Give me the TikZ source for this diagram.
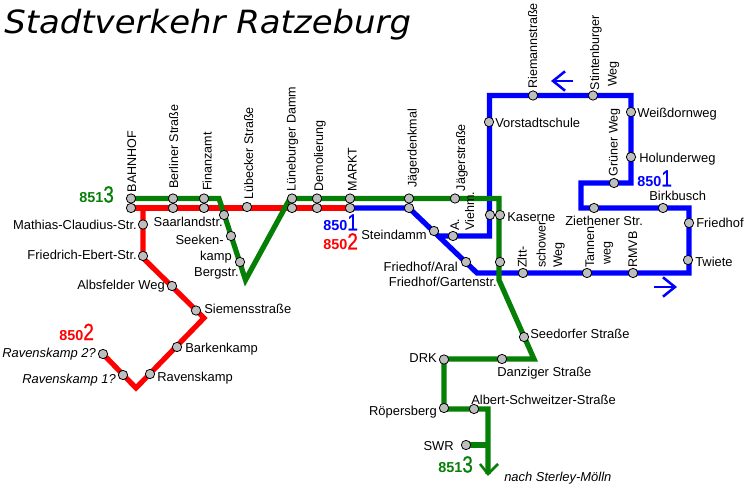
\documentclass[tikz,border=0pt]{standalone}
\usepackage{fontspec}
\setmainfont{Liberation Sans}
\newfontfamily\titlefont{DejaVu Sans}
\newfontfamily\digitfont[FakeBold=0.7]{Liberation Sans}
\usetikzlibrary{arrows.meta,backgrounds}
\definecolor{lgreen}{HTML}{067F06}
\definecolor{lblue}{HTML}{0000FF}
\definecolor{lred}{HTML}{FF0000}
\definecolor{stopgray}{HTML}{BEBEBE}
\newcommand{\lblfont}{\fontsize{9.7pt}{11pt}\selectfont}
\newcommand{\vertfont}{\fontsize{9.4pt}{11pt}\selectfont}
\newcommand{\routelbl}[2]{\fontsize{10.8pt}{11pt}\selectfont\bfseries #1\scalebox{0.82}[1]{\digitfont\fontsize{17.5pt}{18pt}\selectfont\mdseries #2}}
\tikzset{
  x=0.75pt,y=-0.75pt,
  stopdot/.style={circle,draw=black,fill=stopgray,line width=0.6pt,minimum size=7pt,inner sep=0pt},
  lineseg/.style={line width=3.9pt,line join=miter,line cap=butt},
  redline/.style={lineseg,draw=lred},
  blueline/.style={lineseg,draw=lblue},
  greenline/.style={lineseg,draw=lgreen},
  lr/.style={anchor=base west,inner sep=0pt,font=\lblfont},
  ll/.style={anchor=base east,inner sep=0pt,font=\lblfont},
  lu/.style={anchor=base west,inner sep=0pt,font=\vertfont,rotate=90},
  routetag/.style={anchor=base west,inner sep=0pt},
  dirarrow/.style={draw=lblue,line width=1.9pt,-{Straight Barb[length=9pt,width=14.5pt,line width=1.9pt]}}
}
\begin{document}
\begin{tikzpicture}
\useasboundingbox (0,0) rectangle (746,488);
% title
\node[anchor=base west,inner sep=0pt,font=\titlefont\fontsize{24pt}{28pt}\selectfont\itshape] (title) at (4,33.5) {\scalebox{1.06}[1]{Stadtverkehr Ratzeburg}};
% corners
\coordinate (r0) at (131,208);
\coordinate (rb) at (143,208);
\coordinate (rc) at (204,318);
\coordinate (rd) at (136,388);
\coordinate (ra) at (143,258);
\coordinate (g1) at (219,198.5);
\coordinate (g2) at (245.5,280);
\coordinate (g3) at (290,198.5);
\coordinate (g4) at (499,198.5);
\coordinate (g5) at (499,280);
\coordinate (g6) at (534,359);
\coordinate (g7) at (444,359);
\coordinate (g8) at (444,409);
\coordinate (g9) at (488,409);
\coordinate (g10) at (488,474);
\coordinate (g11) at (488,445);
\coordinate (g12) at (480,464);
\coordinate (g13) at (498,464);
\coordinate (b1) at (477,273);
\coordinate (b2) at (689,273);
\coordinate (b3) at (689,208);
\coordinate (b4) at (581,208);
\coordinate (b5) at (581,183);
\coordinate (b6) at (631,183);
\coordinate (b7) at (631,95.5);
\coordinate (b8) at (489.5,95.5);
\coordinate (b9) at (489.5,236);
\coordinate (b10) at (438,236);
\coordinate (a1s) at (573,81);
\coordinate (a1e) at (551,81);
\coordinate (a2s) at (654,287);
\coordinate (a2e) at (677,287);
% stops
\foreach \n/\x/\y in {
 bahnG/131/198.5, bahnR/131/208, berG/173/198.5, berR/173/208, finG/204/198.5, finR/204/208,
 lueb/247/207, saar/224/215, seek/231/236, berg/240/262, luenG/292/198.5, luenR/292/208,
 demG/317/198.5, demR/317/208, marG/350/198.5, marR/350/208, jdG/409/198.5, jdR/409/208,
 jag/455/198.5, stein/434/231, viehm/453/236, aral/466/262, kasB/490/215, kasG/500/215,
 gart/500/262, zlt/523/273, tann/587/273, rmvb/633/273, twi/688/260, fho/689/223, birk/663/208,
 zie/594/208, gru/614/183, hol/631/157, wei/631/112, sti/593/95.5, rie/533/95.5, vor/489/122,
 mat/143/224.5, fri/143/256, alh/172/286, sie/196/310.5, bar/177/347, rav/150/374, rvA/123/375, rvB/103/354,
 see/524/337, dan/502/359, drk/444/359.5, roe/444/408, alb/474/409, swr/466/445}
 {\node[stopdot] (\n) at (\x,\y) {};}
% lines
\begin{scope}[on background layer]
\fill[white] (0,0) rectangle (746,488);
\draw[redline] (r0) -- (marR.center);
\draw[redline] (rb) -- (ra) -- (rc) -- (rd) -- (rvB.center);
\draw[blueline] (marR.center) -- (jdR.center) -- (b1) -- (b2) -- (b3) -- (b4) -- (b5) -- (b6) -- (b7) -- (b8) -- (b9) -- (b10);
\draw[greenline] (bahnG.center) -- (g1) -- (g2) -- (g3) -- (g4) -- (g5) -- (g6) -- (g7) -- (g8) -- (g9) -- (g10);
\draw[greenline] (swr.center) -- (g11);
\draw[lgreen,line width=1.9pt] (g12) -- (g10) -- (g13);
\end{scope}
\draw[dirarrow] (a1s) -- (a1e);
\draw[dirarrow] (a2s) -- (a2e);
% vertical labels
\node[lu] (tBahn) at (136,192.5) {BAHNHOF};
\node[lu] (tBer) at (178,189) {Berliner Straße};
\node[lu] (tFin) at (211.5,191) {Finanzamt};
\node[lu] (tLueb) at (253,200) {Lübecker Straße};
\node[lu] (tLuen) at (295.5,191.5) {Lüneburger Damm};
\node[lu] (tDem) at (323,191.5) {Demolierung};
\node[lu] (tMar) at (356.5,191.5) {MARKT};
\node[lu] (tJd) at (416.5,188) {Jägerdenkmal};
\node[lu] (tJag) at (465,191.5) {Jägerstraße};
\node[lu] (tA) at (459,231) {A.};
\node[lu] (tV) at (474,231) {Viehm.};
\node[lu] (tZa) at (526.5,268) {Zltt-};
\node[lu] (tZb) at (545.5,268) {schower};
\node[lu] (tZc) at (562,268) {Weg};
\node[lu] (tTa) at (594,268) {Tannen};
\node[lu] (tTb) at (610.5,265) {weg};
\node[lu] (tRm) at (637,268) {RMVB};
\node[lu] (tRie) at (537,89) {Riemannstraße};
\node[lu] (tSa) at (599,90.5) {Stintenburger};
\node[lu] (tSb) at (616.5,87) {Weg};
\node[lu] (tGr) at (617.5,176.5) {Grüner Weg};
% left-ending labels
\node[ll] (tMat) at (137,230) {Mathias-Claudius-Str.};
\node[ll] (tFri) at (137,260) {Friedrich-Ebert-Str.};
\node[ll] (tAlh) at (165,290) {Albsfelder Weg};
\node[ll] (tSaar) at (223,227) {Saarlandstr.};
\node[ll] (tSe) at (224,245) {Seeken-};
\node[ll] (tKa) at (232,260.5) {kamp};
\node[ll] (tBg) at (239,276.5) {Bergstr.};
\node[ll] (tSt) at (427,239.5) {Steindamm};
\node[ll] (tAr) at (458,271.5) {Friedhof/Aral};
\node[ll] (tGa) at (497,286.5) {Friedhof/Gartenstr.};
\node[ll] (tDrk) at (437,363) {DRK};
\node[ll] (tRoe) at (437,415) {Röpersberg};
\node[ll] (tSwr) at (454,450) {SWR};
\node[ll,font=\lblfont\itshape] (tR2) at (96,358) {Ravenskamp 2?};
\node[ll,font=\lblfont\itshape] (tR1) at (116,383) {Ravenskamp 1?};
% right-running labels
\node[lr] (tSie) at (204,314) {Siemensstraße};
\node[lr] (tBar) at (185,352.5) {Barkenkamp};
\node[lr] (tRav) at (157,381.5) {Ravenskamp};
\node[lr] (tKas) at (507,221.5) {Kaserne};
\node[lr] (tVor) at (495,128) {Vorstadtschule};
\node[lr] (tWei) at (637,118) {Weißdornweg};
\node[lr] (tHol) at (639,162.5) {Holunderweg};
\node[lr] (tBir) at (649,200.5) {Birkbusch};
\node[lr] (tZie) at (565,225.5) {Ziethener Str.};
\node[lr] (tFho) at (696,227.5) {Friedhof};
\node[lr] (tTwi) at (695,267) {Twiete};
\node[lr] (tSee) at (530,339) {Seedorfer Straße};
\node[lr] (tDan) at (497,376.5) {Danziger Straße};
\node[lr] (tAlb) at (471,404.5) {Albert-Schweitzer-Straße};
\node[lr,font=\lblfont\itshape] (tNach) at (504,481.5) {nach Sterley-Mölln};
% route tags
\node[routetag,text=lgreen] (r13a) at (79,202.5) {\routelbl{851}{3}};
\node[routetag,text=lblue] (r1a) at (323,230.5) {\routelbl{850}{1}};
\node[routetag,text=lred] (r2a) at (323,249.5) {\routelbl{850}{2}};
\node[routetag,text=lblue] (r1b) at (637,186.5) {\routelbl{850}{1}};
\node[routetag,text=lred] (r2b) at (59,340) {\routelbl{850}{2}};
\node[routetag,text=lgreen] (r13b) at (438,472.5) {\routelbl{851}{3}};
\end{tikzpicture}
\end{document}
